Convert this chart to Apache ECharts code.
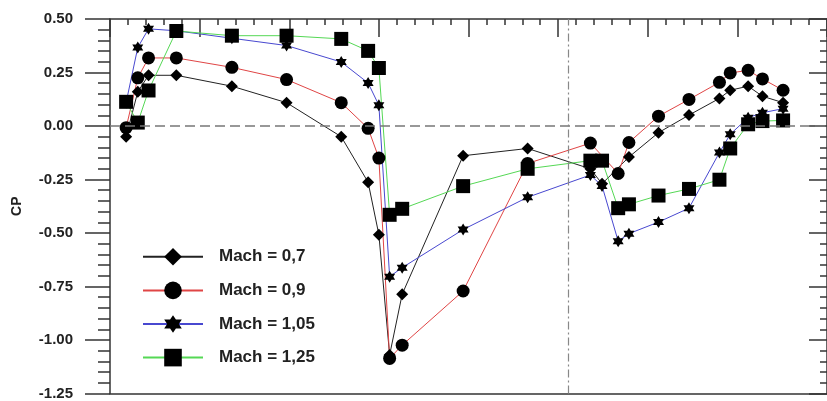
<!DOCTYPE html>
<html>
<head>
<meta charset="utf-8">
<script src="https://cdn.jsdelivr.net/npm/echarts@6/dist/echarts.min.js"></script>
<style>
  html, body { margin: 0; padding: 0; background: #fff; }
  #chart { width: 827px; height: 401px; }
</style>
</head>
<body>
<div id="chart"></div>
<script>
// stations along the x axis (axis carries no labels)
const stations = [0.18, 0.31, 0.43, 0.74, 1.36, 1.97, 2.58, 2.88, 3.0, 3.12, 3.26, 3.94,
                  4.66, 5.36, 5.49, 5.67, 5.79, 6.12, 6.46, 6.8, 6.92, 7.12, 7.28, 7.51];

const cpMach07 = [-0.05, 0.16, 0.237, 0.237, 0.186, 0.109, -0.05, -0.263, -0.508, -1.07, -0.786, -0.139,
                  -0.105, -0.20, -0.27, null, -0.145, -0.031, 0.051, 0.129, 0.167, 0.186, 0.139, 0.109];
const cpMach09 = [-0.008, 0.225, 0.318, 0.318, 0.274, 0.217, 0.109, -0.011, -0.15, -1.086, -1.024, -0.771,
                  -0.175, -0.08, null, -0.222, -0.077, 0.046, 0.124, 0.204, 0.248, 0.26, 0.22, 0.167];
const cpMach105 = [0.11, 0.367, 0.454, 0.445, 0.41, 0.376, 0.299, 0.201, 0.097, -0.704, -0.662, -0.484,
                   -0.333, -0.229, -0.28, -0.538, -0.503, -0.449, -0.384, -0.124, -0.039, 0.039, 0.062, 0.081];
const cpMach125 = [0.113, 0.016, 0.166, 0.444, 0.422, 0.422, 0.407, 0.351, 0.271, -0.415, -0.387, -0.281,
                   -0.20, -0.162, -0.162, -0.384, -0.366, -0.325, -0.294, -0.251, -0.105, 0.008, 0.023, 0.026];

const seriesNames = ['Mach = 0,7', 'Mach = 0,9', 'Mach = 1,05', 'Mach = 1,25'];
const yTicks = [-1.25, -1.0, -0.75, -0.5, -0.25, 0.0, 0.25, 0.5];
const markerX = 5.11;

const hexagram = 'path://M0,-10 L2.887,-5 L8.66,-5 L5.774,0 L8.66,5 L2.887,5 L0,10 L-2.887,5 L-8.66,5 L-5.774,0 L-8.66,-5 L-2.887,-5 Z';

function pairs(vals) {
  const out = [];
  vals.forEach((v, i) => { if (v !== null) out.push([stations[i], v]); });
  return out;
}

const chart = echarts.init(document.getElementById('chart'));

const axisLine = { show: true, onZero: false, lineStyle: { color: '#333', width: 1.5 } };
const font = 'Liberation Sans, Arial, sans-serif';

function makeSeries(name, vals, lineColor, symbol, size) {
  return {
    name: name,
    type: 'line',
    data: pairs(vals),
    symbol: symbol,
    symbolSize: size,
    showAllSymbol: true,
    lineStyle: { color: lineColor, width: 1 },
    itemStyle: { color: '#000', borderWidth: 0 },
    emphasis: { disabled: true }
  };
}

const series = [
  makeSeries(seriesNames[0], cpMach07, '#222', 'diamond', 12),
  makeSeries(seriesNames[1], cpMach09, '#e04545', 'circle', 13),
  makeSeries(seriesNames[2], cpMach105, '#4848d0', hexagram, [11, 12]),
  makeSeries(seriesNames[3], cpMach125, '#55d855', 'rect', 14)
];

series[0].markLine = {
  silent: true,
  symbol: 'none',
  label: { show: false },
  data: [
    { yAxis: 0, lineStyle: { color: '#777', type: [10, 5], width: 1.5 } },
    { xAxis: markerX, lineStyle: { color: '#888', type: [8, 3, 2, 3], width: 1.2 } }
  ]
};

chart.setOption({
  animation: false,
  backgroundColor: '#fff',
  grid: { left: 110, top: 19, width: 720, height: 377 },
  legend: {
    data: seriesNames,
    orient: 'vertical',
    left: 137,
    top: 243,
    itemWidth: 60,
    itemHeight: 22,
    itemGap: 16,
    textStyle: { fontFamily: font, fontWeight: 'bold', fontSize: 17, color: '#222', padding: [0, 0, 0, 11] }
  },
  xAxis: [
    {
      type: 'value', min: 0, max: 8, interval: 1, position: 'bottom',
      axisLine: axisLine, axisTick: { show: false }, axisLabel: { show: false },
      splitLine: { show: false }
    },
    {
      type: 'value', min: 0, max: 8, interval: 1, position: 'top',
      axisLine: axisLine,
      axisTick: { show: true, inside: true, length: 18, lineStyle: { color: '#333', width: 1.5 } },
      minorTick: { show: true, splitNumber: 5, length: 6, lineStyle: { color: '#333', width: 1.5 } },
      axisLabel: { show: false }, splitLine: { show: false }
    }
  ],
  yAxis: [
    {
      type: 'value', min: yTicks[0], max: yTicks[yTicks.length - 1], interval: 0.25, position: 'left',
      name: 'CP', nameLocation: 'middle', nameGap: 86, nameRotate: 90,
      nameTextStyle: { fontFamily: font, fontWeight: 'bold', fontSize: 14, color: '#222' },
      axisLine: axisLine,
      axisTick: { show: true, inside: false, length: 25, lineStyle: { color: '#333', width: 1.5 } },
      minorTick: { show: true, splitNumber: 5, length: 12, lineStyle: { color: '#333', width: 1.5 } },
      axisLabel: {
        margin: 37, fontFamily: font, fontWeight: 'bold', fontSize: 15, color: '#222',
        formatter: v => v.toFixed(2)
      },
      splitLine: { show: false }
    },
    {
      type: 'value', min: yTicks[0], max: yTicks[yTicks.length - 1], interval: 0.25, position: 'right',
      axisLine: axisLine,
      axisTick: { show: true, inside: true, length: 18, lineStyle: { color: '#333', width: 1.5 } },
      minorTick: { show: true, splitNumber: 5, length: 7, lineStyle: { color: '#333', width: 1.5 } },
      axisLabel: { show: false }, splitLine: { show: false }
    }
  ],
  series: series
});
</script>
</body>
</html>
